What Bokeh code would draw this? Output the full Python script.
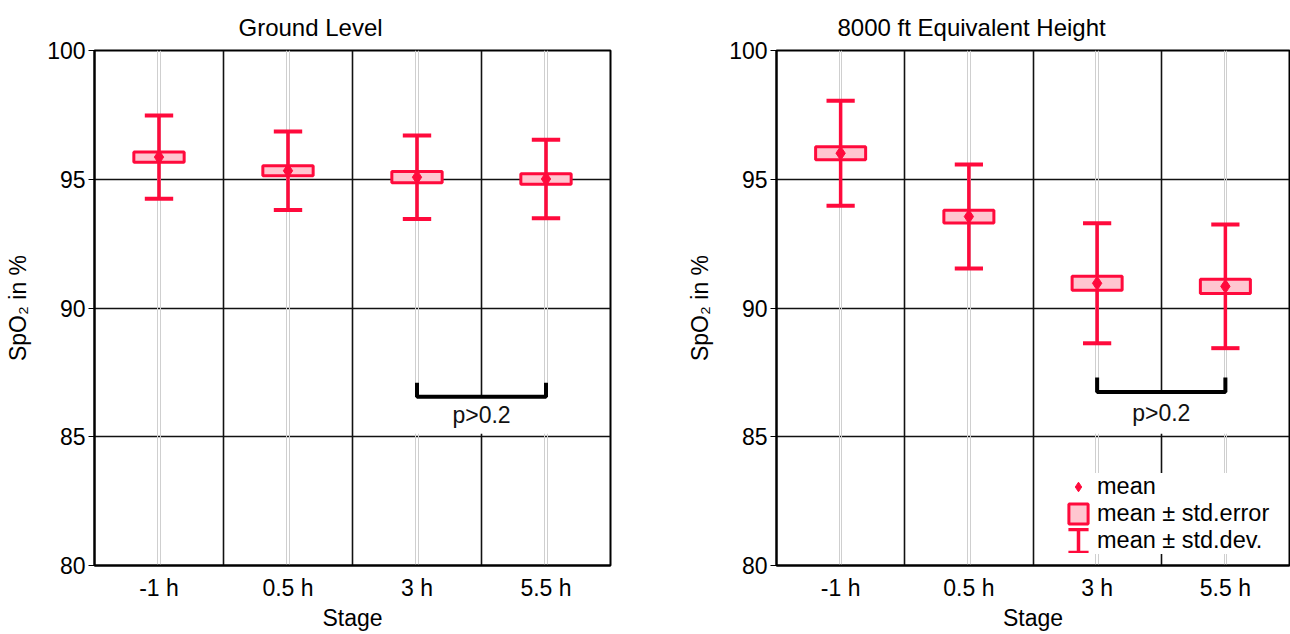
from bokeh.plotting import figure
from bokeh.layouts import row
from bokeh.models import Range1d, FixedTicker, Grid, Legend, LegendItem, ColumnDataSource, CustomJS
from bokeh.embed import file_html
from bokeh.resources import INLINE
from bokeh.core.properties import value

# ---------------- data ----------------
stages = ["-1 h", "0.5 h", "3 h", "5.5 h"]
ground_mean = [95.86, 95.33, 95.08, 95.01]
ground_se = [0.20, 0.19, 0.22, 0.20]
ground_sd = [1.62, 1.52, 1.62, 1.52]
height_mean = [96.01, 93.55, 90.96, 90.84]
height_se = [0.25, 0.25, 0.27, 0.28]
height_sd = [2.04, 2.02, 2.33, 2.40]
y_ticks = [80, 85, 90, 95, 100]
bracket_stages = ["3 h", "5.5 h"]
ground_bracket = [86.55, 87.1]   # bar level, tip level
height_bracket = [86.74, 87.3]
ground_p_y = 85.83
height_p_y = 85.93
p_text = "p>0.2"

FONT = "Liberation Sans"
RED = "#ff0a3c"
PINK = "#ffc6d0"
FS = "23px"
FS_TITLE = "24px"
FS_LEG = "23.5px"

IBEAM = CustomJS(code="""
export default (args, obj, data) => {
  const {ctx, i, r, visuals} = data
  ctx.beginPath()
  ctx.moveTo(-2.1*r, -2.4*r); ctx.lineTo(2.1*r, -2.4*r)
  ctx.moveTo(0, -2.4*r); ctx.lineTo(0, 2.4*r)
  ctx.moveTo(-2.1*r, 2.4*r); ctx.lineTo(2.1*r, 2.4*r)
  visuals.line.apply(ctx, i)
}
""")


def make(title, mean, se, sd, bracket, p_y, fig_w, b_left, b_right, title_off, legend=False):
    xs = [i + 1 for i in range(len(stages))]
    p = figure(width=fig_w, height=634,
               x_range=Range1d(0.5, len(stages) + 0.5), y_range=Range1d(y_ticks[0], y_ticks[-1]),
               output_backend="svg", toolbar_location=None,
               min_border_left=b_left, min_border_right=b_right,
               min_border_top=50, min_border_bottom=69)
    p.title.text = title
    p.title.align = "left"
    p.title.offset = title_off
    p.title.text_font = FONT
    p.title.text_font_size = FS_TITLE
    p.title.text_font_style = "normal"
    p.title.text_color = "black"
    p.title.standoff = 19

    p.outline_line_color = "black"
    p.outline_line_width = 2
    p.outline_line_alpha = 1
    p.background_fill_color = "white"
    p.border_fill_color = "white"

    # axes
    p.xaxis.ticker = FixedTicker(ticks=xs)
    p.xaxis.major_label_overrides = {x: s for x, s in zip(xs, stages)}
    p.xaxis.major_tick_line_color = None
    p.xaxis.minor_tick_line_color = None
    p.xaxis.axis_line_color = "black"
    p.xaxis.axis_line_width = 2
    p.xaxis.major_label_standoff = 3
    p.xaxis.axis_label = "Stage"
    p.xaxis.axis_label_standoff = 1

    p.yaxis.ticker = FixedTicker(ticks=y_ticks)
    p.yaxis.major_tick_out = 6
    p.yaxis.major_tick_in = 0
    p.yaxis.major_tick_line_color = "black"
    p.yaxis.minor_tick_line_color = None
    p.yaxis.axis_line_color = "black"
    p.yaxis.axis_line_width = 2
    p.yaxis.major_label_standoff = 3
    p.yaxis.axis_label = "SpO\u2082 in %"
    p.yaxis.axis_label_standoff = 13

    for ax in (p.xaxis[0], p.yaxis[0]):
        ax.major_label_text_font = FONT
        ax.major_label_text_font_size = FS
        ax.major_label_text_color = "black"
        ax.axis_label_text_font = FONT
        ax.axis_label_text_font_size = FS
        ax.axis_label_text_font_style = "normal"
        ax.axis_label_text_color = "black"

    # grids
    p.xgrid.ticker = FixedTicker(ticks=[x + 0.5 for x in xs[:-1]])
    p.xgrid.grid_line_color = "#111111"
    p.xgrid.grid_line_width = 1.6
    p.ygrid.ticker = FixedTicker(ticks=y_ticks[1:-1])
    p.ygrid.grid_line_color = "#111111"
    p.ygrid.grid_line_width = 1.6
    d = 0.009
    g = Grid(dimension=0, ticker=FixedTicker(ticks=[x - d for x in xs] + [x + d for x in xs]),
             grid_line_color="#cfcfcf", grid_line_width=1)
    p.add_layout(g)

    lo = [m - s for m, s in zip(mean, sd)]
    hi = [m + s for m, s in zip(mean, sd)]
    cap = 0.22
    src = ColumnDataSource(dict(x=xs, mean=mean, lo=lo, hi=hi,
                                cl=[x - cap / 2 for x in xs], cr=[x + cap / 2 for x in xs],
                                top=[m + e for m, e in zip(mean, se)],
                                bot=[m - e for m, e in zip(mean, se)]))
    p.segment(x0="x", y0="lo", x1="x", y1="hi", source=src, line_color=RED, line_width=3.5)
    p.segment(x0="cl", y0="hi", x1="cr", y1="hi", source=src, line_color=RED, line_width=4)
    p.segment(x0="cl", y0="lo", x1="cr", y1="lo", source=src, line_color=RED, line_width=4)
    box = p.vbar(x="x", width=0.39, top="top", bottom="bot", source=src,
                 fill_color=PINK, line_color=RED, line_width=3)
    dia = p.scatter(x="x", y="mean", source=src, marker="diamond", size=14,
                    fill_color=RED, line_color=RED)

    # significance bracket
    b0 = stages.index(bracket_stages[0]) + 1
    b1 = stages.index(bracket_stages[1]) + 1
    p.quad(left=[b0 - 0.06], right=[b1 + 0.06], top=[bracket[0]], bottom=[y_ticks[1] + 0.12],
           fill_color="white", line_color=None)
    p.line(x=[b0, b0, b1, b1], y=[bracket[1], bracket[0], bracket[0], bracket[1]],
           line_color="black", line_width=4)
    p.text(x=[(b0 + b1) / 2], y=[p_y], text=[p_text], text_font=value(FONT),
           text_font_size=FS, text_align="center", text_baseline="middle", text_color="#111111")

    if legend:
        try:
            wr = p.scatter(x="x", y="mean", source=src, marker="@ibeam", defs={"@ibeam": IBEAM},
                           size=0, line_color=RED, line_width=3.5, line_cap="butt")
        except Exception:
            wr = p.scatter(x="x", y="mean", source=src, marker="dash", angle=1.5708, size=0,
                           line_color=RED, line_width=3.5)
        lg = Legend(items=[LegendItem(label="mean", renderers=[dia]),
                           LegendItem(label="mean \u00b1 std.error", renderers=[box]),
                           LegendItem(label="mean \u00b1 std.dev.", renderers=[wr])],
                    location=(290, 11), background_fill_color="white", background_fill_alpha=1,
                    border_line_color=None, label_text_font=FONT, label_text_font_size=FS_LEG,
                    label_text_color="black",
                    glyph_width=24, glyph_height=25, spacing=0, padding=6, margin=0,
                    label_standoff=7)
        p.add_layout(lg)
    return p


p1 = make("Ground Level", ground_mean, ground_se, ground_sd, ground_bracket, ground_p_y,
          645, 94, 35, 144)
p2 = make("8000 ft Equivalent Height", height_mean, height_se, height_sd, height_bracket, height_p_y,
          645, 131, 1, 61, legend=True)

layout = row(p1, p2)
open("out.html", "w").write(file_html(layout, INLINE))
